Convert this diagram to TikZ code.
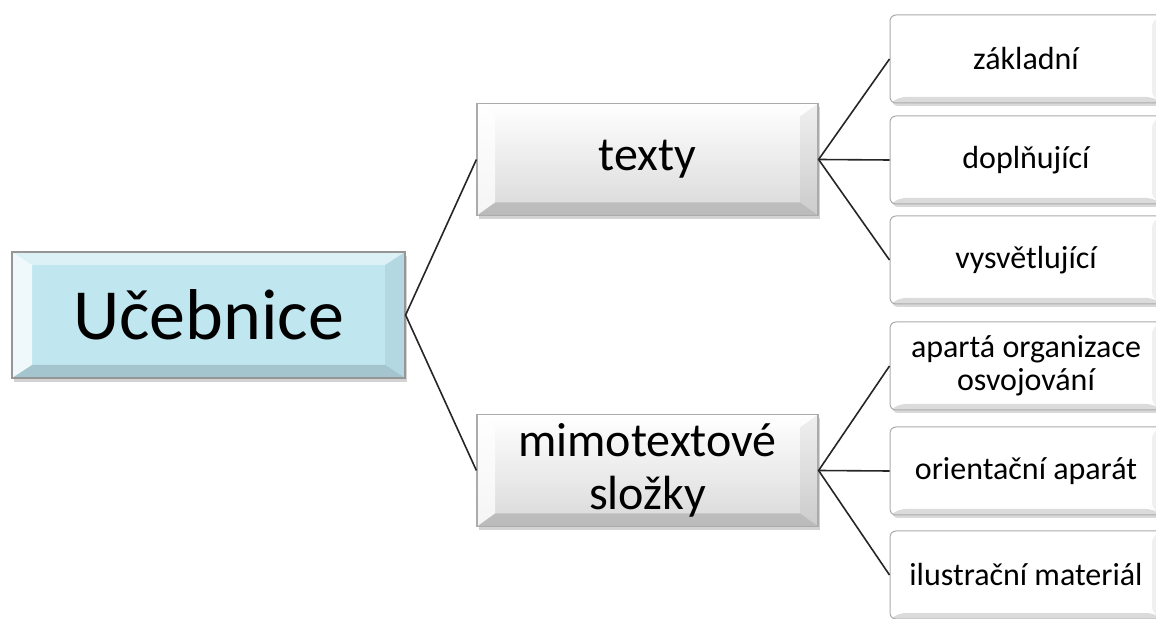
\documentclass[tikz,border=0pt]{standalone}
\usepackage{fontspec}
\setmainfont{Carlito}
\usetikzlibrary{calc, positioning, shadows}

\definecolor{ucebblue}{RGB}{192,230,240}
\definecolor{edgegray}{RGB}{150,150,150}

\tikzset{
  bevel/.style 2 args={path picture={
    \coordinate (bv-a) at (path picture bounding box.north west);
    \coordinate (bv-b) at (path picture bounding box.north east);
    \coordinate (bv-c) at (path picture bounding box.south east);
    \coordinate (bv-d) at (path picture bounding box.south west);
    \coordinate (bv-ia) at ($(bv-a) + (#1, -#2)$);
    \coordinate (bv-ib) at ($(bv-b) + (-#1, -#2)$);
    \coordinate (bv-ic) at ($(bv-c) + (-#1, #2)$);
    \coordinate (bv-id) at ($(bv-d) + (#1, #2)$);
    \fill[white, opacity=0.45] (bv-a) -- (bv-b) -- (bv-ib) -- (bv-ia) -- cycle;
    \fill[white, opacity=0.75] (bv-a) -- (bv-ia) -- (bv-id) -- (bv-d) -- cycle;
    \fill[black, opacity=0.06] (bv-b) -- (bv-c) -- (bv-ic) -- (bv-ib) -- cycle;
    \fill[black, opacity=0.14] (bv-d) -- (bv-c) -- (bv-ic) -- (bv-id) -- cycle;
  }},
  mainbox/.style={draw=edgegray, line width=0.6pt, fill=ucebblue,
    minimum width=196.5pt, minimum height=63pt, bevel={10pt}{6.5pt},
    drop shadow={shadow xshift=1pt, shadow yshift=-2pt, opacity=0.35},
    font=\fontsize{36}{40}\selectfont},
  midbox/.style={draw=edgegray!80, line width=0.6pt, top color=white, bottom color=gray!30,
    minimum width=170.5pt, minimum height=56pt, bevel={9pt}{6.5pt},
    drop shadow={shadow xshift=1pt, shadow yshift=-2pt, opacity=0.35},
    align=center, font=\fontsize{24}{26.5}\selectfont},
  leafbox/.style={draw=edgegray!80, line width=0.5pt, fill=white, rounded corners=3pt,
    minimum width=136pt, minimum height=44pt, bevel={5pt}{3pt},
    drop shadow={shadow xshift=1pt, shadow yshift=-1.5pt, opacity=0.3},
    align=center, font=\fontsize{16}{16.5}\selectfont},
  link/.style={draw=black!85, line width=0.8pt},
}

\begin{document}
\begin{tikzpicture}[x=0.5pt, y=-0.5pt]

  \useasboundingbox (0, 0) rectangle (1156, 619);
  \clip (0, 0) rectangle (1156, 619);

  % root and middle level
  \node[mainbox] (ucebnice) at (208.5, 315) {Učebnice};
  \node[midbox]  (texty)    at (647.5, 159.5) {texty};
  \node[midbox]  (mimo)     at (647.5, 470.5) {mimotextové\\složky};

  % leaves
  \node[leafbox] (zakladni)    at (1026, 59)  {základní};
  \node[leafbox] (doplnujici)  at (1026, 160) {doplňující};
  \node[leafbox] (vysvetluj)   at (1026, 260) {vysvětlující};
  \node[leafbox] (aparat-org)  at (1026, 366) {apartá organizace\\osvojování};
  \node[leafbox] (orientacni)  at (1026, 471) {orientační aparát};
  \node[leafbox] (ilustracni)  at (1026, 575) {ilustrační materiál};

  % connectors
  \draw[link] (texty.west) to (ucebnice.east) to (mimo.west);

  \draw[link] (zakladni.west) to (texty.east) to (vysvetluj.west);
  \draw[link] (texty.east) to (doplnujici.west);

  \draw[link] (aparat-org.west) to (mimo.east) to (ilustracni.west);
  \draw[link] (mimo.east) to (orientacni.west);

\end{tikzpicture}
\end{document}
